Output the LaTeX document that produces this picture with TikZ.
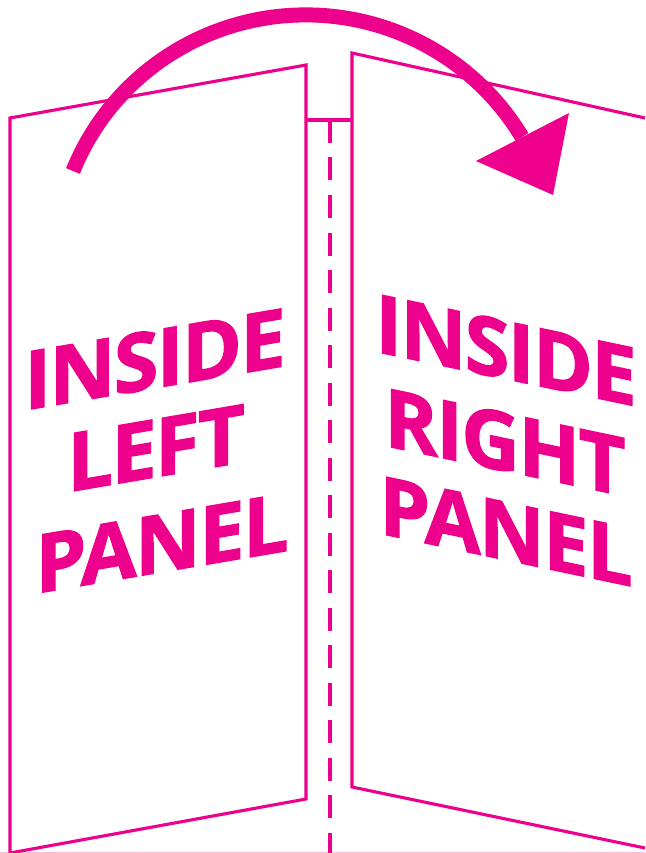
\documentclass[tikz,border=0pt]{standalone}
\usepackage{fontspec}
\setmainfont{Open Sans}[BoldFeatures={FakeBold=1.6,LetterSpace=-2}]
\definecolor{mag}{RGB}{236,0,140}
\begin{document}
\begin{tikzpicture}[x=1pt,y=-1pt,
  thin line/.style={draw=mag,line width=3.1pt,line join=miter},
  fold/.style={draw=mag,line width=3.1pt,dash pattern=on 23pt off 14.5pt},
  bigarrow/.style={draw=mag,line width=15pt},
  headfill/.style={fill=mag},
  lbl/.style={text=mag,anchor=base,inner sep=0pt,font=\fontsize{81}{81}\selectfont\bfseries},
  lefttxt/.style={lbl,yslant=0.17},
  righttxt/.style={lbl,yslant=-0.21}]
\useasboundingbox (0,0) rectangle (645,853);
% faint page edge at bottom
\draw[mag!25,line width=1.2pt] (0,852.4) -- (645,852.4);
% left panel
\coordinate (ltl) at (10,118);
\coordinate (ltr) at (306,65);
\coordinate (lbr) at (306,799);
\coordinate (lbl) at (10,853);
\draw[thin line] (lbl) -- (ltl) -- (ltr) -- (lbr) -- (lbl);
% spine strip
\coordinate (sl) at (306,120);
\coordinate (sr) at (352,120);
\draw[thin line] (sl) -- (sr);
\coordinate (dtop) at (330,120);
\coordinate (dbot) at (330,853);
\draw[fold] (dtop) -- (dbot);
% right panel
\coordinate (rtl) at (352,53);
\coordinate (rtr) at (645,118);
\coordinate (rbl) at (352,787);
\coordinate (rbr) at (645,848);
\draw[thin line] (rtr) -- (rtl) -- (rbl) -- (rbr);
% arrow
\coordinate (as) at (73,171);
\coordinate (am) at (305.8,14.9);
\coordinate (ae) at (522,137);
\draw[bigarrow] (as) .. controls (110.8,76.9) and (203.1,14.9) .. (am)
  .. controls (394.3,14.9) and (476.3,61.2) .. (ae);
\coordinate (h1) at (476,161);
\coordinate (h2) at (569,113);
\coordinate (h3) at (553,195);
\fill[headfill] (h1) -- (h2) -- (h3) -- cycle;
% labels
\node[lefttxt] (l1) at (155,388) {INSIDE};
\node[lefttxt] (l2) at (156,477) {LEFT};
\node[lefttxt] (l3) at (162,572) {PANEL};
\node[righttxt] (r1) at (506,379) {INSIDE};
\node[righttxt] (r2) at (505,471) {RIGHT};
\node[righttxt] (r3) at (506,560) {PANEL};
\end{tikzpicture}
\end{document}
